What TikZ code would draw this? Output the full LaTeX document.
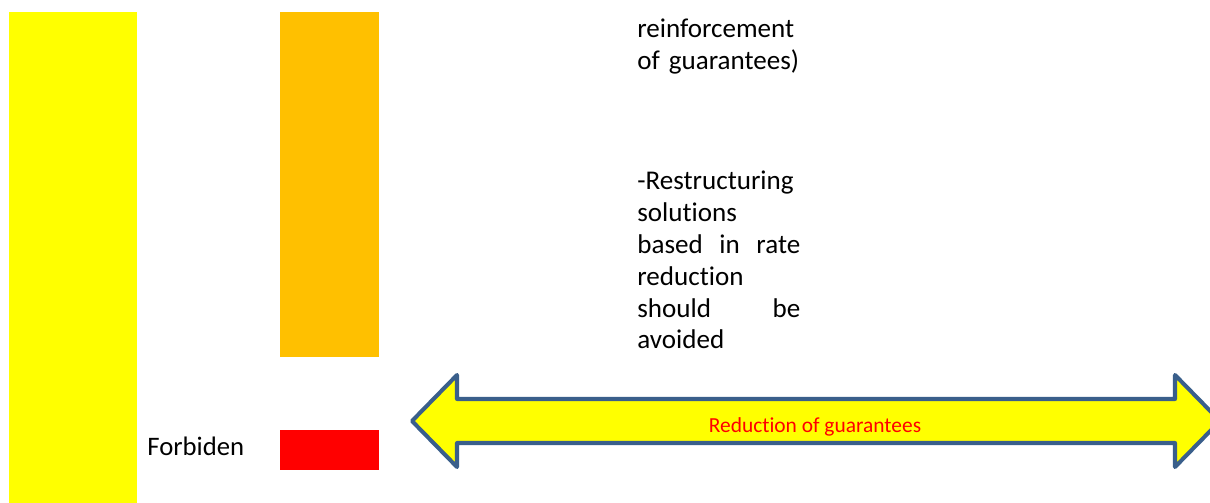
\documentclass[tikz,border=0pt]{standalone}
\usepackage{fontspec}
\setmainfont{Carlito}[Ligatures=NoCommon]
\usepackage{tikz}
\usetikzlibrary{positioning}

\definecolor{barYellow}{HTML}{FFFF00}
\definecolor{barOrange}{HTML}{FFC000}
\definecolor{barRed}{HTML}{FF0000}
\definecolor{arrowBlue}{HTML}{3A5F8B}

\begin{document}
\begin{tikzpicture}[x=0.02cm,y=-0.02cm,
    body text/.style={anchor=north west,inner sep=0pt,align=left,text width=163*0.02cm,
      font=\fontsize{15.4}{18.1}\selectfont},
    side text/.style={anchor=base west,inner sep=0pt,font=\fontsize{15.2}{18.1}\selectfont},
    arrow text/.style={anchor=base,inner sep=0pt,text=barRed,font=\fontsize{12.2}{14}\selectfont}]
  \useasboundingbox (0,0) rectangle (1210,503);
  \clip (0,0) rectangle (1210,503);

  % bars
  \fill[barYellow] (9,12) rectangle (137,503);
  \fill[barOrange] (280,12) rectangle (379,357);
  \fill[barRed] (280,430) rectangle (379,470);

  \node[side text] (forbid) at (147,455) {Forbiden};

  % right column text
  \node[body text] (reinf) at (637,19) {reinforcement\\ of guarantees)};
  \node[body text] (restr) at (637,171) {-Restructuring\\ solutions\\
    based\hfill in\hfill rate\\ reduction\\ should\hfill be\\ avoided};

  % double arrow
  \draw[arrowBlue,line width=2.3pt,line join=round,fill=barYellow]
    (412,421) -- (457,375) -- (457,399) -- (1175,399) -- (1175,375) -- (1220,421)
    -- (1175,467) -- (1175,443) -- (457,443) -- (457,467) -- cycle;
  \node[arrow text] (reduc) at (815,432) {Reduction of guarantees};
\end{tikzpicture}
\end{document}
